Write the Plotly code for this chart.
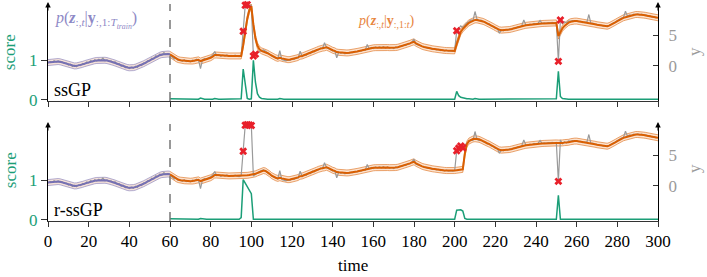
import plotly.graph_objects as go

# ---------------- data ----------------
time_all = list(range(0, 301))
t_train = list(range(0, 61))
t_test = list(range(60, 301))
x_ticks = list(range(0, 301, 20))
score_ticks = [0, 1]
y_ticks = [0, 5]
train_end = 60

y_obs = [
    0.42, 0.70, 0.55, 0.80, 0.60, 0.78, 0.55, 0.62, 0.35, 0.40,
    0.10, 0.22, -0.15, 0.05, -0.20, 0.12, 0.00, 0.35, 0.20, 0.58,
    0.45, 0.85, 0.62, 0.95, 0.75, 1.05, 0.85, 1.25, 0.80, 0.95,
    0.70, 0.78, 0.45, 0.62, 0.20, 0.32, -0.10, 0.05, -0.35, -0.18,
    -0.50, -0.28, -0.45, -0.10, -0.30, 0.12, 0.00, 0.45, 0.35, 0.82,
    0.75, 1.22, 1.10, 1.62, 1.45, 1.92, 1.70, 2.15, 1.85, 2.02,
    1.75, 1.50, 1.10, 1.22, 0.88, 1.00, 0.72, 0.95, 0.68, 0.82,
    0.62, 0.88, 0.75, 1.05, 0.95, -0.50, 1.00, 1.15, 1.05, 1.30,
    1.45, 1.75, 2.35, 1.65, 1.80, 1.55, 1.72, 1.58, 1.75, 1.52,
    1.68, 1.55, 1.72, 1.58, 1.50, 1.62, 5.70, 10.05, 10.15, 10.10,
    10.00, 1.60, 1.90, 2.10, 2.35, 2.50, 2.60, 2.40, 2.20, 1.90,
    1.60, 1.40, 1.20, 1.10, 2.50, 1.00, 0.90, 0.80, 0.95, 0.85,
    1.10, 1.05, 1.35, 1.25, 2.40, 1.50, 1.85, 1.70, 2.05, 2.00,
    2.40, 2.30, 2.65, 2.60, 2.95, 2.85, 3.80, 3.00, 2.80, 2.65,
    2.45, 2.50, 1.30, 2.25, 2.05, 2.20, 1.95, 2.15, 2.05, 2.20,
    2.15, 2.35, 2.30, 2.50, 2.40, 2.65, 2.55, 3.50, 2.80, 3.00,
    2.85, 3.10, 2.95, 3.10, 2.95, 3.15, 2.90, 3.10, 2.90, 3.00,
    2.85, 3.10, 3.00, 3.25, 3.20, 3.40, 3.35, 3.65, 3.60, 3.95,
    4.40, 3.55, 3.45, 3.30, 3.15, 3.05, 2.95, 2.85, 2.90, 2.70,
    2.80, 2.60, 2.70, 2.50, 2.60, 2.45, 2.55, 2.40, 2.50, 2.40,
    2.50, 5.80, 6.20, 6.60, 6.30, 6.70, 7.10, 7.30, 7.60, 7.50,
    9.00, 7.70, 7.50, 7.55, 7.30, 7.25, 6.95, 6.95, 6.60, 6.55,
    6.20, 6.15, 5.40, 5.95, 5.80, 6.00, 5.90, 6.10, 6.00, 6.25,
    6.20, 6.45, 6.40, 6.65, 7.60, 6.75, 6.70, 6.90, 6.80, 7.00,
    6.90, 7.05, 7.50, 7.00, 7.10, 7.05, 7.15, 7.10, 7.20, 7.05,
    7.15, 0.70, 7.60, 6.95, 7.30, 7.10, 7.45, 7.35, 7.50, 7.40,
    7.45, 7.30, 7.35, 7.15, 7.25, 7.20, 8.50, 7.00, 7.05, 6.85,
    6.85, 6.70, 6.75, 6.55, 6.65, 6.50, 6.75, 6.85, 7.10, 7.25,
    7.50, 7.65, 7.90, 8.00, 9.05, 8.20, 8.45, 8.35, 8.55, 8.45,
    8.60, 8.45, 8.55, 8.35, 8.45, 8.25, 8.30, 8.05, 8.15, 7.95,
    8.00,
]

train_mean = [
    0.50, 0.55, 0.62, 0.66, 0.68, 0.67, 0.62, 0.53, 0.42, 0.30,
    0.18, 0.07, -0.02, -0.06, -0.05, 0.00, 0.09, 0.20, 0.32, 0.44,
    0.55, 0.65, 0.73, 0.80, 0.85, 0.88, 0.90, 0.90, 0.88, 0.83,
    0.76, 0.66, 0.54, 0.42, 0.28, 0.14, 0.01, -0.12, -0.23, -0.32,
    -0.37, -0.38, -0.34, -0.26, -0.15, -0.02, 0.13, 0.30, 0.48, 0.67,
    0.86, 1.05, 1.24, 1.42, 1.58, 1.72, 1.83, 1.90, 1.93, 1.92,
    1.88,
]

ssgp_mean = [
    1.85, 1.60, 1.35, 1.15, 1.00, 0.90, 0.85, 0.80, 0.78, 0.75,
    0.72, 0.75, 0.80, 0.88, 0.95, 0.75, 0.85, 0.95, 1.05, 1.15,
    1.30, 1.50, 1.75, 1.75, 1.70, 1.68, 1.65, 1.65, 1.62, 1.60,
    1.60, 1.60, 1.62, 1.60, 1.58, 1.60, 3.40, 5.80, 7.80, 9.20,
    9.90, 6.80, 4.60, 3.30, 2.70, 2.45, 2.35, 2.25, 2.05, 1.85,
    1.65, 1.45, 1.30, 1.20, 1.30, 1.20, 1.10, 1.00, 0.98, 1.00,
    1.05, 1.12, 1.25, 1.35, 1.55, 1.60, 1.72, 1.85, 2.00, 2.10,
    2.30, 2.40, 2.55, 2.70, 2.85, 2.90, 2.95, 3.05, 2.90, 2.70,
    2.55, 2.45, 2.25, 2.20, 2.15, 2.10, 2.08, 2.10, 2.12, 2.15,
    2.20, 2.28, 2.35, 2.42, 2.50, 2.55, 2.65, 2.80, 2.85, 2.90,
    2.95, 2.98, 3.00, 3.02, 3.05, 3.05, 3.02, 3.00, 2.98, 2.95,
    2.95, 3.00, 3.05, 3.15, 3.25, 3.30, 3.40, 3.55, 3.70, 3.85,
    3.95, 3.70, 3.50, 3.35, 3.20, 3.10, 3.00, 2.90, 2.85, 2.80,
    2.75, 2.68, 2.62, 2.58, 2.55, 2.52, 2.50, 2.48, 2.46, 2.45,
    2.45, 3.60, 4.80, 5.60, 6.10, 6.50, 6.80, 7.10, 7.30, 7.50,
    7.60, 7.60, 7.55, 7.45, 7.35, 7.20, 7.05, 6.90, 6.70, 6.50,
    6.30, 6.10, 5.95, 5.90, 5.90, 5.92, 5.95, 6.00, 6.08, 6.15,
    6.25, 6.35, 6.45, 6.55, 6.62, 6.70, 6.75, 6.80, 6.85, 6.90,
    6.92, 6.95, 7.00, 7.00, 7.02, 7.05, 7.08, 7.10, 7.10, 7.10,
    7.10, 4.90, 5.70, 6.20, 6.60, 6.90, 7.15, 7.30, 7.40, 7.40,
    7.40, 7.35, 7.25, 7.20, 7.20, 7.18, 7.10, 7.00, 6.95, 6.88,
    6.80, 6.75, 6.68, 6.60, 6.55, 6.55, 6.65, 6.80, 7.00, 7.20,
    7.40, 7.60, 7.80, 7.95, 8.05, 8.15, 8.30, 8.40, 8.45, 8.50,
    8.50, 8.50, 8.45, 8.40, 8.35, 8.30, 8.20, 8.10, 8.05, 8.00,
    7.95,
]

# robust filter: same as ssGP except where outliers were rejected
rssgp_mean = list(ssgp_mean)
rssgp_mean[95 - 60:110 - 60] = [1.60, 1.62, 1.65, 1.70, 1.75, 1.80, 1.85, 1.95,
                                2.10, 2.25, 2.40, 2.50, 2.42, 2.22, 1.95]
rssgp_mean[200 - 60:214 - 60] = [2.50, 2.55, 2.60, 2.65, 2.70, 5.30, 6.90, 7.40,
                                 7.60, 7.75, 7.80, 7.80, 7.70, 7.55]
rssgp_mean[250 - 60:257 - 60] = [7.10, 7.08, 7.15, 7.10, 7.15, 7.15, 7.20]

band_half = 0.5

ssgp_score = [
    .02, .02, .01, .01, .01, .01, .01, .01, .01, .01,
    .01, .01, .01, .01, .01, .04, .02, .01, .01, .01,
    .01, .01, .03, .01, .01, .01, .01, .01, .01, .01,
    .01, .01, .01, .01, .01, .02, .78, .35, .03, .01,
    .02, 1.00, .45, .15, .06, .03, .02, .02, .01, .01,
    .01, .01, .01, .01, .03, .01, .01, .01, .01, .01,
    .01, .01, .01, .01, .02, .01, .01, .01, .01, .01,
    .01, .01, .01, .01, .01, .01, .02, .01, .01, .01,
    .01, .01, .02, .01, .01, .01, .01, .01, .01, .01,
    .01, .01, .01, .01, .01, .01, .01, .02, .01, .01,
    .01, .01, .01, .01, .01, .01, .01, .01, .01, .01,
    .01, .01, .01, .01, .01, .01, .01, .01, .01, .01,
    .02, .01, .01, .01, .01, .01, .01, .01, .01, .01,
    .01, .01, .01, .01, .01, .01, .01, .01, .01, .01,
    .01, .21, .10, .06, .04, .03, .02, .02, .01, .01,
    .03, .01, .01, .01, .01, .01, .01, .01, .01, .01,
    .01, .01, .02, .01, .01, .01, .01, .01, .01, .01,
    .01, .01, .01, .01, .02, .01, .01, .01, .01, .01,
    .01, .01, .02, .01, .01, .01, .01, .01, .01, .01,
    .02, .72, .08, .03, .02, .01, .01, .01, .01, .01,
    .01, .01, .01, .01, .01, .01, .02, .01, .01, .01,
    .01, .01, .01, .01, .01, .01, .01, .01, .01, .01,
    .01, .01, .01, .01, .02, .01, .01, .01, .01, .01,
    .01, .01, .01, .01, .01, .01, .01, .01, .01, .01,
    .01,
]

rssgp_score = [
    .02, .02, .01, .01, .01, .01, .01, .01, .01, .01,
    .01, .01, .01, .01, .01, .03, .02, .01, .01, .01,
    .01, .01, .02, .01, .01, .01, .01, .01, .01, .01,
    .01, .01, .01, .01, .01, .05, 1.02, .93, .85, .75,
    .66, .01, .01, .01, .01, .01, .01, .01, .01, .01,
    .01, .01, .01, .01, .02, .01, .01, .01, .01, .01,
    .01, .01, .01, .01, .02, .01, .01, .01, .01, .01,
    .01, .01, .01, .01, .01, .01, .02, .01, .01, .01,
    .01, .01, .02, .01, .01, .01, .01, .01, .01, .01,
    .01, .01, .01, .01, .01, .01, .01, .02, .01, .01,
    .01, .01, .01, .01, .01, .01, .01, .01, .01, .01,
    .01, .01, .01, .01, .01, .01, .01, .01, .01, .01,
    .02, .01, .01, .01, .01, .01, .01, .01, .01, .01,
    .01, .01, .01, .01, .01, .01, .01, .01, .01, .01,
    .01, .24, .25, .25, .22, .03, .01, .01, .01, .01,
    .02, .01, .01, .01, .01, .01, .01, .01, .01, .01,
    .01, .01, .02, .01, .01, .01, .01, .01, .01, .01,
    .01, .01, .01, .01, .02, .01, .01, .01, .01, .01,
    .01, .01, .02, .01, .01, .01, .01, .01, .01, .01,
    .01, .62, .01, .01, .01, .01, .01, .01, .01, .01,
    .01, .01, .01, .01, .01, .01, .02, .01, .01, .01,
    .01, .01, .01, .01, .01, .01, .01, .01, .01, .01,
    .01, .01, .01, .01, .02, .01, .01, .01, .01, .01,
    .01, .01, .01, .01, .01, .01, .01, .01, .01, .01,
    .01,
]

ssgp_outliers = [96, 97, 98, 101, 102, 201, 251, 252]
rssgp_outliers = [96, 97, 98, 99, 100, 201, 202, 203, 204, 251]

panel_names = ["ssGP", "r-ssGP"]

# ---------------- style ----------------
FONT = "Liberation Serif, DejaVu Serif, serif"
GREEN = "#1b9e77"
ORANGE = "#d95f02"
PURPLE = "#7570b3"
GRAY = "#9a9a9a"
RED = "#e8202a"

fig = go.Figure()

panels = [
    dict(x="x", ys="y", yv="y2", mean=ssgp_mean, score=ssgp_score, out=ssgp_outliers),
    dict(x="x2", ys="y3", yv="y4", mean=rssgp_mean, score=rssgp_score, out=rssgp_outliers),
]

for p in panels:
    xa, ys, yv = p["x"], p["ys"], p["yv"]
    fig.add_trace(go.Scatter(x=t_train, y=[m + band_half for m in train_mean], xaxis=xa, yaxis=yv,
                             mode="lines", line=dict(color="rgba(117,112,179,0.55)", width=1),
                             hoverinfo="skip"))
    fig.add_trace(go.Scatter(x=t_train, y=[m - band_half for m in train_mean], xaxis=xa, yaxis=yv,
                             mode="lines", line=dict(color="rgba(117,112,179,0.55)", width=1),
                             fill="tonexty", fillcolor="rgba(236,190,170,0.45)", hoverinfo="skip"))
    fig.add_trace(go.Scatter(x=t_test, y=[m + band_half for m in p["mean"]], xaxis=xa, yaxis=yv,
                             mode="lines", line=dict(color="rgba(217,95,2,0.55)", width=1),
                             hoverinfo="skip"))
    fig.add_trace(go.Scatter(x=t_test, y=[m - band_half for m in p["mean"]], xaxis=xa, yaxis=yv,
                             mode="lines", line=dict(color="rgba(217,95,2,0.55)", width=1),
                             fill="tonexty", fillcolor="rgba(245,175,120,0.35)", hoverinfo="skip"))
    fig.add_trace(go.Scatter(x=time_all, y=y_obs, xaxis=xa, yaxis=yv, mode="lines",
                             line=dict(color=GRAY, width=1.2)))
    fig.add_trace(go.Scatter(x=t_train, y=train_mean, xaxis=xa, yaxis=yv, mode="lines",
                             line=dict(color=PURPLE, width=2)))
    fig.add_trace(go.Scatter(x=t_test, y=p["mean"], xaxis=xa, yaxis=yv, mode="lines",
                             line=dict(color=ORANGE, width=2)))
    fig.add_trace(go.Scatter(x=p["out"], y=[y_obs[t] for t in p["out"]], xaxis=xa, yaxis=yv,
                             mode="markers", cliponaxis=False,
                             marker=dict(symbol="x", size=7, color=RED, line=dict(width=0))))
    fig.add_trace(go.Scatter(x=t_test, y=p["score"], xaxis=xa, yaxis=ys, mode="lines",
                             line=dict(color=GREEN, width=1.5)))

top_dom = [0.553, 1.0]
bot_dom = [0.0, 0.447]
score_range = [-0.035, 2.435]
y_range = [-5.9, 10.25]

xcommon = dict(range=[0, 300], tickvals=x_ticks, ticks="outside", ticklen=5, tickcolor="#333",
               showline=True, linecolor="#333", linewidth=1, showgrid=False, zeroline=False,
               tickfont=dict(family=FONT, size=17, color="black"))
scommon = dict(range=score_range, tickvals=score_ticks, ticks="outside", ticklen=6, tickcolor="#333",
               showline=True, linecolor="black", linewidth=1, showgrid=False, zeroline=False,
               tickfont=dict(family=FONT, size=17, color=GREEN))
ycommon = dict(range=y_range, tickvals=y_ticks, ticks="inside", ticklen=5, tickcolor="#333",
               showline=True, linecolor="black", linewidth=1, showgrid=False, zeroline=False,
               side="right", ticklabelstandoff=6,
               tickfont=dict(family=FONT, size=17, color=GRAY))

fig.update_layout(
    width=707, height=277,
    margin=dict(l=48, r=49, t=4, b=56),
    paper_bgcolor="white", plot_bgcolor="white",
    showlegend=False, hovermode=False,
    xaxis=dict(domain=[0, 1], anchor="y", showticklabels=False, **xcommon),
    yaxis=dict(domain=top_dom, anchor="x", **scommon),
    yaxis2=dict(overlaying="y", anchor="x", **ycommon),
    xaxis2=dict(domain=[0, 1], anchor="y3", showticklabels=True, **xcommon),
    yaxis3=dict(domain=bot_dom, anchor="x2", **scommon),
    yaxis4=dict(overlaying="y3", anchor="x2", **ycommon),
)

shapes = []
for xa, ya in [("x", "y"), ("x2", "y3")]:
    shapes.append(dict(type="line", xref=xa, yref=ya + " domain", x0=train_end, x1=train_end,
                       y0=0, y1=1, line=dict(color="#777", width=1.5, dash="dash")))
fig.update_layout(shapes=shapes)

ann = []
for ya in ["y", "y3"]:
    for xpos in [0, 1]:
        ann.append(dict(xref="x domain" if ya == "y" else "x2 domain", yref=ya + " domain",
                        x=xpos, y=1.02, ax=0, ay=10, axref="pixel", ayref="pixel",
                        text="", showarrow=True, arrowhead=2, arrowsize=1.1, arrowwidth=1,
                        arrowcolor="black", standoff=0))
ann.append(dict(xref="x domain", yref="y domain", x=0.006, y=0.115, xanchor="left", yanchor="middle",
                text=panel_names[0], showarrow=False, font=dict(family=FONT, size=18, color="black")))
ann.append(dict(xref="x2 domain", yref="y3 domain", x=0.006, y=0.115, xanchor="left", yanchor="middle",
                text=panel_names[1], showarrow=False, font=dict(family=FONT, size=18, color="black")))
ann.append(dict(xref="x domain", yref="y domain", x=0.009, y=0.83, xanchor="left", yanchor="middle",
                text="<i>p</i>(<b><i>z</i></b><sub>:,<i>t</i></sub>|<b>y</b><sub>:,1:<i>T<sub>train</sub></i></sub>)",
                showarrow=False, font=dict(family=FONT, size=16, color="#8e89c6")))
ann.append(dict(xref="x domain", yref="y domain", x=0.505, y=0.815, xanchor="left", yanchor="middle",
                text="<i>p</i>(<b><i>z</i></b><sub>:,<i>t</i></sub>|<b>y</b><sub>:,1:<i>t</i></sub>)",
                showarrow=False, font=dict(family=FONT, size=14, color="#e8853e")))
for yc in [0.779, 0.235]:
    ann.append(dict(xref="paper", yref="paper", x=-0.062, y=yc, xanchor="center", yanchor="middle",
                    text="score", textangle=-90, showarrow=False,
                    font=dict(family=FONT, size=17, color=GREEN)))
for yc in [0.779, 0.24]:
    ann.append(dict(xref="paper", yref="paper", x=1.0607, y=yc, xanchor="center", yanchor="middle",
                    text="y", textangle=-90, showarrow=False,
                    font=dict(family=FONT, size=17, color=GRAY)))
ann.append(dict(xref="paper", yref="paper", x=0.5, y=-0.203, xanchor="center", yanchor="middle",
                text="time", showarrow=False, font=dict(family=FONT, size=17, color="black")))
fig.update_layout(annotations=ann)

fig.write_html("out.html", config={"displayModeBar": False},
               post_script="document.body.style.margin='0';")
